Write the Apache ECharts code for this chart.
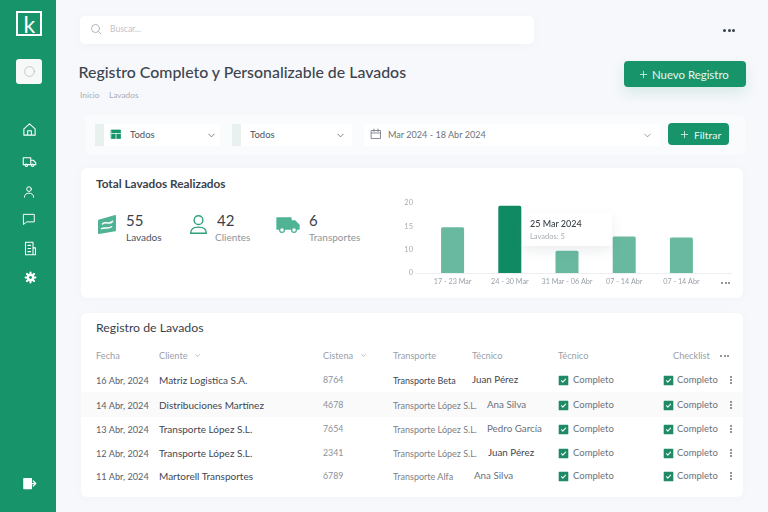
<!DOCTYPE html>
<html lang="es">
<head>
<meta charset="utf-8">
<title>Registro de Lavados</title>
<script src="https://cdn.jsdelivr.net/npm/echarts@6/dist/echarts.min.js"></script>
<style>
html, body { margin: 0; padding: 0; width: 768px; height: 512px; overflow: hidden; background: #f7f8fb; font-family: Lato, "Noto Sans", sans-serif; color: #3a414b; }
.box { position: absolute; box-sizing: border-box; }
.t { position: absolute; white-space: nowrap; transform: translateY(-50%); line-height: 1; }
.card { background: #fff; border-radius: 6px; box-shadow: 0 1px 8px rgba(120,130,150,.04); }
.ic { position: absolute; fill: none; stroke-linecap: round; stroke-linejoin: round; }
.btn { background: #17946a; border-radius: 4px; }
#chart { position: absolute; left: 390px; top: 190px; width: 360px; height: 110px; }
</style>
</head>
<body>
<div id="page"></div>
<div class="box" style="left:415px;top:273px;width:317px;height:1px;background:#eceef1"></div>
<div id="chart"></div>
<script>
// datos del gráfico
const semanas = ['17 - 23 Mar', '24 - 30 Mar', '31 Mar - 06 Abr', '07 - 14 Abr', '07 - 14 Abr'];
const lavados = [14.8, 19.4, 9.5, 12.8, 12.6];
const ticksY = [0, 10, 15, 20];
const semanaActiva = 1;
const tipTitulo = '25 Mar 2024';
const tipTexto = 'Lavados: 5';

// datos de la tabla
const fechas = ['16 Abr, 2024', '14 Abr, 2024', '13 Abr, 2024', '12 Abr, 2024', '11 Abr, 2024'];
const clientes = ['Matriz Logistica S.A.', 'Distribuciones Martínez', 'Transporte López S.L.', 'Transporte López S.L.', 'Martorell Transportes'];
const cisternas = ['8764', '4678', '7654', '2341', '6789'];
const transportes = ['Transporte Beta', 'Transporte López S.L.', 'Transporte López S.L.', 'Transporte López S.L.', 'Transporte Alfa'];
const tecnicos = ['Juan Pérez', 'Ana Silva', 'Pedro García', 'Juan Pérez', 'Ana Silva'];
const estados = ['Completo', 'Completo', 'Completo', 'Completo', 'Completo'];

// resumen
const totales = ['55', '42', '6'];
const totalesTexto = ['Lavados', 'Clientes', 'Transportes'];

const page = document.getElementById('page');
let html = '';

function box(x, y, w, h, style, cls) {
    html += `<div class="box ${cls || ''}" style="left:${x}px;top:${y}px;width:${w}px;height:${h}px;${style || ''}"></div>`;
}

function text(x, y, str, size, color, weight, cls) {
    html += `<span class="t ${cls || ''}" style="left:${x}px;top:${y}px;font-size:${size}px;color:${color};font-weight:${weight || 400}">${str}</span>`;
}

function icon(x, y, size, color, body, width) {
    html += `<svg class="ic" style="left:${x - size / 2}px;top:${y - size / 2}px" width="${size}" height="${size}" viewBox="0 0 24 24" stroke="${color}" stroke-width="${width || 2}">${body}</svg>`;
}

function dots(x, y, color, r) {
    [0, 1, 2].forEach(i => box(x + i * (r * 2 + 1.5), y - r, r * 2, r * 2, `background:${color};border-radius:50%`));
}

const chevron = '<path d="M6 9l6 6 6-6"/>';
const plus = '<path d="M12 5v14M5 12h14"/>';
const truck = '<path d="M2 6h12v11H2zM14 10h4l4 4v3h-8z"/><circle cx="7" cy="18" r="2"/><circle cx="17" cy="18" r="2"/>';

// barra lateral
box(0, 0, 56, 512, 'background:#17946a');
box(16, 11, 26, 25, 'border:2px solid #fff');
text(23.5, 24, 'k', 23, '#fff', 400);
box(16, 59, 26, 25, 'background:#f7f8f8;border-radius:3px');
icon(29, 71, 13, '#b7bcc0', '<circle cx="12" cy="12" r="9"/>', 1.5);
icon(29, 129, 15, '#fff', '<path d="M3 11l9-8 9 8v10H3zM9 21v-7h6v7"/>', 1.7);
icon(29, 161, 15, '#fff', truck, 1.7);
icon(29, 192, 14, '#fff', '<circle cx="12" cy="7" r="4"/><path d="M4 21c0-5 4-7 8-7s8 2 8 7"/>', 1.7);
icon(29, 219, 14, '#fff', '<path d="M3 4h18v13H8l-5 4z"/>', 1.7);
icon(30, 248, 15, '#fff', '<path d="M4 2h12v20H4zM16 11h4v11h-4zM8 7h4M8 12h4M8 17h4"/>', 1.7);
icon(30, 277, 13, '#fff', '<circle cx="12" cy="12" r="7" fill="#fff" stroke="none"/><circle cx="12" cy="12" r="2.6" fill="#17946a" stroke="none"/><path d="M12 3v3M12 18v3M3 12h3M18 12h3M5.5 5.5l2 2M16.5 16.5l2 2M5.5 18.5l2-2M16.5 7.5l2-2"/>', 4);
icon(29, 483, 15, '#fff', '<path d="M3 4h12v16H3z" fill="#fff"/><path d="M13 12h9M18 8l4 4-4 4"/>', 2);

// búsqueda
box(80, 16, 454, 28, 'background:#fff;border-radius:5px;box-shadow:0 2px 8px rgba(120,130,150,.05)');
icon(96, 29, 12, '#9aa0a6', '<circle cx="11" cy="11" r="8"/><path d="M17 17l5 5"/>', 1.5);
text(110, 29, 'Buscar...', 8.5, '#c0c4ca');
dots(723, 30, '#3a414b', 1.5);

// cabecera
text(78.5, 72, 'Registro Completo y Personalizable de Lavados', 15.9, '#3d444e', 500);
text(80, 94.5, 'Inicio', 8.3, '#a8adb4');
text(109, 94.5, 'Lavados', 8.3, '#a8adb4');
box(624, 61, 122, 26, 'box-shadow:0 6px 14px rgba(23,148,106,.14)', 'btn');
icon(643, 74.5, 11, '#e8f7f1', plus, 1.7);
text(652, 75, 'Nuevo Registro', 11.4, '#e8f7f1', 400);

// filtros
box(85, 115, 660, 40, 'background:#fafbfc;border-radius:6px');
box(95, 124, 125, 22, 'background:#fff');
box(95, 124, 9, 22, 'background:#e9f1ee');
icon(116, 134, 12, '#17946a', '<path d="M3 4h18v17H3z" fill="#17946a"/><path d="M3 11h18M12 11v10" stroke="#fff"/>', 1.5);
text(130, 135, 'Todos', 9.5, '#4a515b');
icon(211, 135, 11, '#5b626c', chevron, 1.7);
box(232, 124, 120, 22, 'background:#fff');
box(232, 124, 9, 22, 'background:#e9f1ee');
text(250, 135, 'Todos', 9.5, '#4a515b');
icon(340, 135, 11, '#5b626c', chevron, 1.7);
box(364, 124, 296, 22, 'background:#fff');
icon(376, 134, 12, '#6b727b', '<path d="M3 5h18v16H3zM3 10h18M8 2v5M16 2v5"/>', 1.6);
text(388, 135, 'Mar 2024 - 18 Abr 2024', 9.1, '#6d747d');
icon(647, 135, 11, '#6d747d', chevron, 1.5);
box(668, 123, 61, 22, '', 'btn');
icon(684, 134.5, 11, '#e8f7f1', plus, 1.7);
text(694, 135, 'Filtrar', 10.4, '#e8f7f1', 400);

// tarjeta resumen
box(81, 168, 662, 130, '', 'card');
text(96, 184, 'Total Lavados Realizados', 11.8, '#3a414b', 700);
icon(107, 224, 22, '#4fb394', '<path d="M3 8l18-5v16l-18 3z" fill="#4fb394"/><path d="M7 12c4-4 8 2 11-3M6 17c4-2 7 1 11-2" stroke="#fff"/>', 1.6);
icon(198, 224, 21, '#2f9f7d', '<circle cx="12" cy="7" r="5"/><path d="M3 22c0-6 4-7 9-7s9 1 9 7z"/>', 1.6);
icon(288, 224, 24, '#4fb394', '<path d="M1 6h14v11H1zM15 9h4l4 4v4h-8z" fill="#4fb394"/><circle cx="6" cy="18" r="2.4" fill="#fff"/><circle cx="18" cy="18" r="2.4" fill="#fff"/>', 1.3);
const kpiX = [126, 217, 309];
totales.forEach((v, i) => {
    text(kpiX[i], 220, v, 15, '#3a414b', 400);
    text(kpiX[i] - (i === 1 ? 2 : 0), 236.5, totalesTexto[i], 10, i === 0 ? '#4a515b' : '#8f959c');
});
dots(721, 282.5, '#6d747d', 1);

// tabla
box(81, 313, 662, 184, '', 'card');
box(81, 392, 662, 25, 'background:#fafafb');
text(96, 328, 'Registro de Lavados', 12.3, '#3a414b', 400);
const headers = [[96, 'Fecha'], [159, 'Cliente'], [323, 'Cistena'], [393, 'Transporte'], [472, 'Técnico'], [558, 'Técnico'], [673, 'Checklist']];
headers.forEach(h => text(h[0], 356, h[1], 9.2, '#9aa0a8'));
icon(197, 355.5, 7, '#9aa0a8', chevron, 2.4);
icon(363, 355.5, 7, '#9aa0a8', chevron, 2.4);
dots(720, 355.5, '#6d747d', 1);

const filas = [380, 405, 429, 453, 476];
const tecnicoX = [472, 487, 487, 488, 474];
const checkbox = '<path d="M3 3h18v18H3z" fill="#1f8a68" stroke-width="3"/><path d="M7.5 12.5l3 3 6-6.5" stroke="#fff" stroke-width="2.2"/>';
fechas.forEach((f, i) => {
    const y = filas[i];
    text(96, y + 0.5, f, 9.2, '#59606a');
    text(159, y, clientes[i], 10, '#3f464f', 400);
    text(323, y, cisternas[i], 8.8, '#8b9199');
    text(393, y, transportes[i], 9, i === 0 ? '#3f464f' : '#7b818a');
    text(tecnicoX[i], y, tecnicos[i], 9.8, i === 1 || i === 2 || i === 4 ? '#6b717a' : '#3f464f');
    icon(563.5, y, 11, '#1f8a68', checkbox);
    text(573, y, estados[i], 9.5, '#6b717a');
    icon(668, y, 11, '#1f8a68', checkbox);
    text(677, y, estados[i], 9.5, '#6b717a');
    box(730, y - 4, 2, 2, 'background:#6b717a;border-radius:1px');
    box(730, y - 1, 2, 2, 'background:#6b717a;border-radius:1px');
    box(730, y + 2, 2, 2, 'background:#6b717a;border-radius:1px');
});

page.innerHTML = html;

// el eje Y original tiene marcas equidistantes 0, 10, 15, 20
function posicionEje(v) {
    for (let i = 1; i < ticksY.length; i++) {
        if (v <= ticksY[i]) {
            return i - 1 + (v - ticksY[i - 1]) / (ticksY[i] - ticksY[i - 1]);
        }
    }
    return ticksY.length - 1;
}

const chart = echarts.init(document.getElementById('chart'));
chart.setOption({
    animation: false,
    textStyle: { fontFamily: 'Lato, "Noto Sans", sans-serif' },
    grid: { left: 34, top: 13, width: 286, height: 70 },
    tooltip: {
        trigger: 'item',
        alwaysShowContent: true,
        transitionDuration: 0,
        position: [132, 23],
        padding: [4, 30, 3, 8],
        borderWidth: 0,
        borderRadius: 2,
        backgroundColor: 'rgba(255,255,255,0.96)',
        extraCssText: 'box-shadow:0 5px 12px rgba(110,120,135,.13);',
        formatter: function () {
            return `<div style="font-size:9px;line-height:14px;color:#3a414b;font-weight:500">${tipTitulo}</div>` +
                `<div style="font-size:7.5px;line-height:12px;color:#a8adb4">${tipTexto}</div>`;
        }
    },
    xAxis: {
        type: 'category',
        data: semanas,
        axisLine: { show: false },
        axisTick: { show: false },
        axisLabel: { fontSize: 7.2, color: '#9aa0a8', margin: 5, interval: 0 }
    },
    yAxis: {
        type: 'value',
        min: 0,
        max: ticksY.length - 1,
        interval: 1,
        axisLine: { show: false },
        axisTick: { show: false },
        splitLine: { show: false },
        axisLabel: {
            fontSize: 7.5,
            color: '#a8adb4',
            margin: 11,
            formatter: function (v) { return ticksY[v]; }
        }
    },
    series: [{
        type: 'bar',
        barWidth: 23,
        data: lavados.map((v, i) => ({
            value: posicionEje(v),
            itemStyle: {
                color: i === semanaActiva ? '#108a63' : '#68b9a0',
                borderRadius: [1.5, 1.5, 0, 0]
            }
        }))
    }]
});
chart.dispatchAction({ type: 'showTip', seriesIndex: 0, dataIndex: semanaActiva });
</script>
</body>
</html>
